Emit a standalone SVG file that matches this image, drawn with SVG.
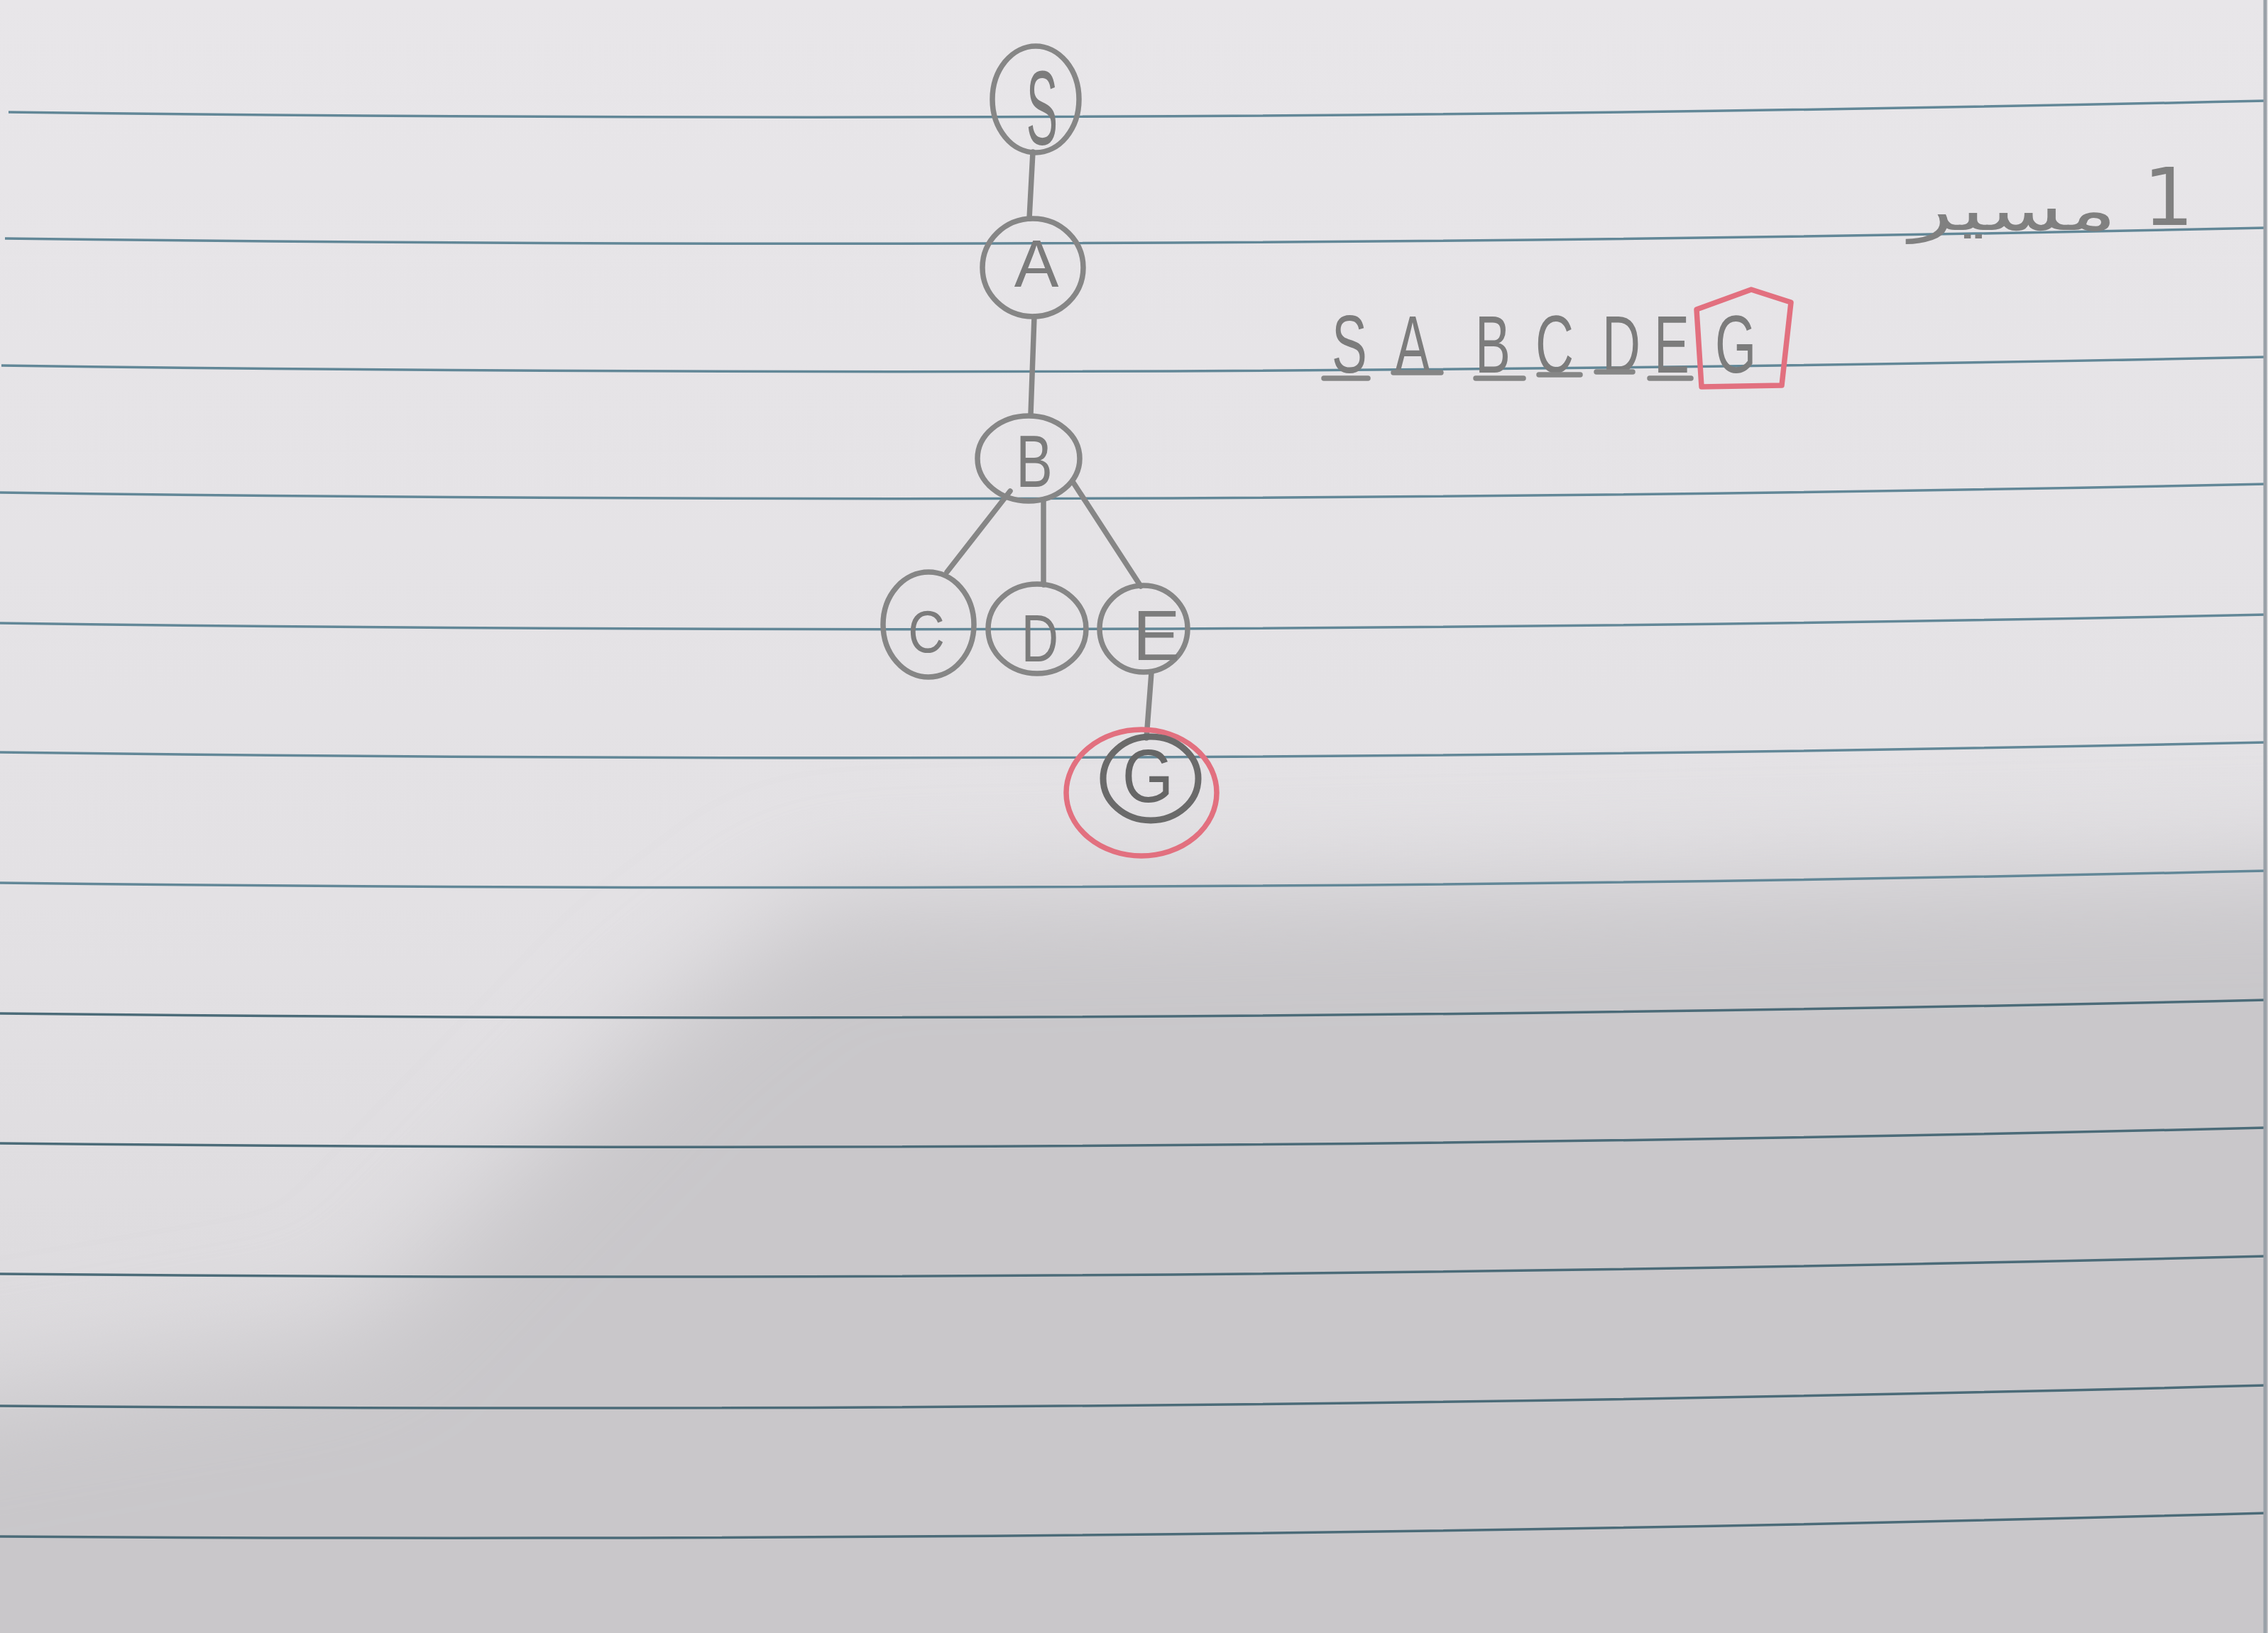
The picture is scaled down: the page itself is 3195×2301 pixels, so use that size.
<svg xmlns="http://www.w3.org/2000/svg" width="3195" height="2301" viewBox="0 0 3195 2301">
<defs>
<style>
.rule{fill:none;stroke:#628797;stroke-width:3.5}
.rule2{fill:none;stroke:#4b6b78;stroke-width:3.5}
.pen{fill:none;stroke:#868686;stroke-width:7.5;stroke-linecap:round}
.dark{fill:none;stroke:#6a6a6a;stroke-width:9}
.red{fill:none;stroke:#e2707f;stroke-width:7.5;stroke-linejoin:round}
.lbl{font-family:"Liberation Sans",Arial,sans-serif;fill:#7c7c7c;text-anchor:middle}
.ar{font-family:"DejaVu Sans",sans-serif;fill:#808080}
</style>
<linearGradient id="paper" x1="0" y1="0" x2="0" y2="1">
<stop offset="0" stop-color="#e8e6e9"/>
<stop offset="0.55" stop-color="#e3e1e4"/>
<stop offset="1" stop-color="#d9d7da"/>
</linearGradient>
<filter id="soft" x="-20%" y="-20%" width="140%" height="140%">
<feGaussianBlur stdDeviation="80"/>
</filter>
</defs>
<rect x="0" y="0" width="3195" height="2301" fill="url(#paper)"/>
<path d="M-200 2000 L500 1880 L950 1420 L1150 1270 L3400 1220 L3400 2500 L-200 2500 Z" fill="#c9c7ca" filter="url(#soft)"/>
<g id="ruling">
<path class="rule" d="M12 158 Q1597 178 3192 142"/>
<path class="rule" d="M7 336 Q1597 356 3192 321"/>
<path class="rule" d="M2 515 Q1597 537 3192 503"/>
<path class="rule" d="M0 694 Q1597 716 3192 682"/>
<path class="rule" d="M0 878 Q1597 900 3192 866"/>
<path class="rule" d="M0 1060 Q1597 1081 3192 1046"/>
<path class="rule" d="M0 1244 Q1597 1263 3192 1227"/>
<path class="rule2" d="M0 1428 Q1597 1446 3192 1409"/>
<path class="rule2" d="M0 1611 Q1597 1628 3192 1589"/>
<path class="rule2" d="M0 1795 Q1597 1810 3192 1770"/>
<path class="rule2" d="M0 1981 Q1597 1994 3192 1952"/>
<path class="rule2" d="M0 2165 Q1597 2176 3192 2132"/>
<line x1="3191" y1="0" x2="3191" y2="2301" stroke="#9aa1a8" stroke-width="5"/>
</g>
<g id="connectors">
<path class="pen" d="M1455 214 L1450 308"/>
<path class="pen" d="M1457 446 L1452 584"/>
<path class="pen" d="M1423 692 L1334 806"/>
<path class="pen" d="M1470 706 L1470 824"/>
<path class="pen" d="M1512 680 L1607 826"/>
<path class="pen" d="M1622 948 L1615 1040"/>
</g>
<g id="node-S">
<ellipse class="pen" cx="1459" cy="140" rx="61" ry="75"/>
<text class="lbl" font-size="148" transform="translate(1468 204) scale(0.45 1)">S</text>
</g>
<g id="node-A">
<ellipse class="pen" cx="1455" cy="377" rx="71" ry="69"/>
<text class="lbl" font-size="94" x="1460" y="404">A</text>
</g>
<g id="node-B">
<ellipse class="pen" cx="1449" cy="646" rx="72" ry="60"/>
<text class="lbl" font-size="103" transform="translate(1457 686) scale(0.75 1)">B</text>
</g>
<g id="node-C">
<ellipse class="pen" cx="1308" cy="880" rx="64" ry="74"/>
<text class="lbl" font-size="84" transform="translate(1305 919) scale(0.85 1)">C</text>
</g>
<g id="node-D">
<ellipse class="pen" cx="1461" cy="886" rx="69" ry="63"/>
<text class="lbl" font-size="94" transform="translate(1465 932) scale(0.77 1)">D</text>
</g>
<g id="node-E">
<ellipse class="pen" cx="1611" cy="886" rx="62" ry="61"/>
<text class="lbl" font-size="100" x="1629" y="930">E</text>
</g>
<g id="node-G">
<ellipse class="red" cx="1608" cy="1117" rx="106" ry="89"/>
<ellipse class="dark" cx="1621" cy="1097" rx="67" ry="59"/>
<text class="lbl" font-size="106" style="fill:#666666" transform="translate(1617 1130) scale(0.88 1)">G</text>
</g>
<g id="path-result">
<text class="lbl" font-size="115" transform="scale(0.65 1)" x="2924.6 3061.5 3235.4 3369.2 3513.8 3623.1 3761.5" y="525">SABCDEG</text>
<path class="pen" d="M1865 533 L1927 533 M1963 525 L2030 525 M2079 533 L2146 533 M2168 528 L2226 528 M2249 524 L2300 524 M2324 533 L2382 533"/>
<path class="red" d="M2390 436 L2467 408 L2523 426 L2510 543 L2397 545 Z"/>
</g>
<g id="title">
<text class="ar" font-size="82" x="2690" y="324" textLength="292" lengthAdjust="spacingAndGlyphs">مسیر</text>
<text class="ar" font-size="112" x="3055" y="317" text-anchor="middle">1</text>
</g>
</svg>
